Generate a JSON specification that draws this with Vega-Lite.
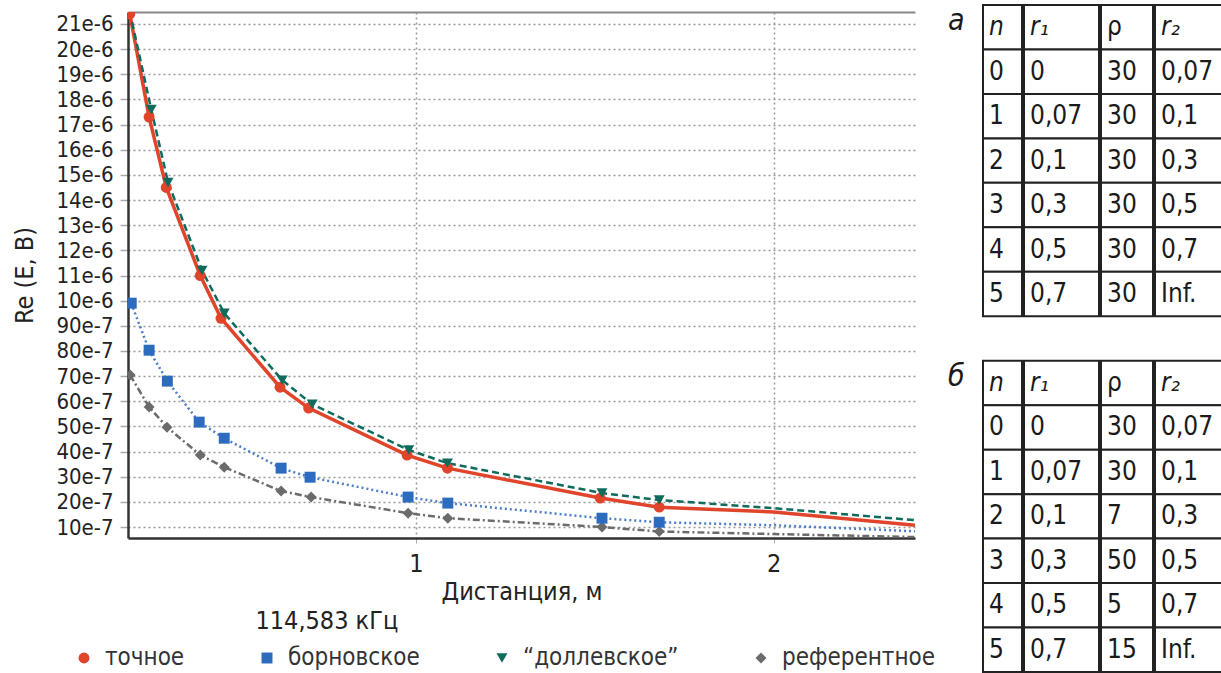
{
  "$schema": "https://vega.github.io/schema/vega-lite/v6.json",
  "autosize": {"type": "pad"},
  "padding": {"left": 12, "top": 4, "right": 0, "bottom": 0},
  "config": {
    "font": "DejaVu Sans Condensed, Liberation Sans Narrow, sans-serif",
    "view": {"stroke": null},
    "axis": {"labelColor": "#222222", "titleColor": "#222222", "titleFontWeight": "normal"}
  },
  "datasets": {
    "curves": [
      {"s": "референтное", "x": 0.201, "y": 7.04e-6, "m": 1},
      {"s": "референтное", "x": 0.254, "y": 5.77e-6, "m": 1},
      {"s": "референтное", "x": 0.304, "y": 4.97e-6, "m": 1},
      {"s": "референтное", "x": 0.397, "y": 3.86e-6, "m": 1},
      {"s": "референтное", "x": 0.464, "y": 3.38e-6, "m": 1},
      {"s": "референтное", "x": 0.623, "y": 2.43e-6, "m": 1},
      {"s": "референтное", "x": 0.707, "y": 2.19e-6, "m": 1},
      {"s": "референтное", "x": 0.978, "y": 1.55e-6, "m": 1},
      {"s": "референтное", "x": 1.089, "y": 1.35e-6, "m": 1},
      {"s": "референтное", "x": 1.52, "y": 1.0e-6, "m": 1},
      {"s": "референтное", "x": 1.68, "y": 0.82e-6, "m": 1},
      {"s": "референтное", "x": 2.0, "y": 0.72e-6, "m": 0},
      {"s": "референтное", "x": 2.395, "y": 0.6e-6, "m": 0},
      {"s": "борновское", "x": 0.204, "y": 9.9e-6, "m": 1},
      {"s": "борновское", "x": 0.254, "y": 8.03e-6, "m": 1},
      {"s": "борновское", "x": 0.305, "y": 6.8e-6, "m": 1},
      {"s": "борновское", "x": 0.394, "y": 5.17e-6, "m": 1},
      {"s": "борновское", "x": 0.464, "y": 4.53e-6, "m": 1},
      {"s": "борновское", "x": 0.623, "y": 3.34e-6, "m": 1},
      {"s": "борновское", "x": 0.704, "y": 2.98e-6, "m": 1},
      {"s": "борновское", "x": 0.978, "y": 2.19e-6, "m": 1},
      {"s": "борновское", "x": 1.089, "y": 1.95e-6, "m": 1},
      {"s": "борновское", "x": 1.52, "y": 1.35e-6, "m": 1},
      {"s": "борновское", "x": 1.68, "y": 1.19e-6, "m": 1},
      {"s": "борновское", "x": 2.0, "y": 1.07e-6, "m": 0},
      {"s": "борновское", "x": 2.395, "y": 0.83e-6, "m": 0},
      {"s": "точное", "x": 0.2, "y": 21.4e-6, "m": 1},
      {"s": "точное", "x": 0.254, "y": 17.3e-6, "m": 1},
      {"s": "точное", "x": 0.302, "y": 14.5e-6, "m": 1},
      {"s": "точное", "x": 0.397, "y": 11.0e-6, "m": 1},
      {"s": "точное", "x": 0.455, "y": 9.3e-6, "m": 1},
      {"s": "точное", "x": 0.62, "y": 6.56e-6, "m": 1},
      {"s": "точное", "x": 0.7, "y": 5.73e-6, "m": 1},
      {"s": "точное", "x": 0.975, "y": 3.86e-6, "m": 1},
      {"s": "точное", "x": 1.088, "y": 3.34e-6, "m": 1},
      {"s": "точное", "x": 1.515, "y": 2.15e-6, "m": 1},
      {"s": "точное", "x": 1.68, "y": 1.79e-6, "m": 1},
      {"s": "точное", "x": 2.0, "y": 1.6e-6, "m": 0},
      {"s": "точное", "x": 2.395, "y": 1.07e-6, "m": 0},
      {"s": "“доллевское”", "x": 0.2, "y": 21.5e-6, "m": 0},
      {"s": "“доллевское”", "x": 0.26, "y": 17.6e-6, "m": 1},
      {"s": "“доллевское”", "x": 0.307, "y": 14.7e-6, "m": 1},
      {"s": "“доллевское”", "x": 0.402, "y": 11.2e-6, "m": 1},
      {"s": "“доллевское”", "x": 0.464, "y": 9.5e-6, "m": 1},
      {"s": "“доллевское”", "x": 0.626, "y": 6.84e-6, "m": 1},
      {"s": "“доллевское”", "x": 0.71, "y": 5.88e-6, "m": 1},
      {"s": "“доллевское”", "x": 0.98, "y": 4.06e-6, "m": 1},
      {"s": "“доллевское”", "x": 1.088, "y": 3.54e-6, "m": 1},
      {"s": "“доллевское”", "x": 1.52, "y": 2.35e-6, "m": 1},
      {"s": "“доллевское”", "x": 1.68, "y": 2.07e-6, "m": 1},
      {"s": "“доллевское”", "x": 2.0, "y": 1.75e-6, "m": 0},
      {"s": "“доллевское”", "x": 2.395, "y": 1.27e-6, "m": 0}
    ],
    "tables": [
      {"row": 0, "col": "lbl", "t": "а", "it": 1},
      {"row": 8, "col": "lbl", "t": "б", "it": 1},
      {"row": 0, "col": "n", "t": "n", "it": 1},
      {"row": 0, "col": "r1", "t": "r₁", "it": 1},
      {"row": 0, "col": "rho", "t": "ρ", "it": 0},
      {"row": 0, "col": "r2", "t": "r₂", "it": 1},
      {"row": 1, "col": "n", "t": "0", "it": 0},
      {"row": 1, "col": "r1", "t": "0", "it": 0},
      {"row": 1, "col": "rho", "t": "30", "it": 0},
      {"row": 1, "col": "r2", "t": "0,07", "it": 0},
      {"row": 2, "col": "n", "t": "1", "it": 0},
      {"row": 2, "col": "r1", "t": "0,07", "it": 0},
      {"row": 2, "col": "rho", "t": "30", "it": 0},
      {"row": 2, "col": "r2", "t": "0,1", "it": 0},
      {"row": 3, "col": "n", "t": "2", "it": 0},
      {"row": 3, "col": "r1", "t": "0,1", "it": 0},
      {"row": 3, "col": "rho", "t": "30", "it": 0},
      {"row": 3, "col": "r2", "t": "0,3", "it": 0},
      {"row": 4, "col": "n", "t": "3", "it": 0},
      {"row": 4, "col": "r1", "t": "0,3", "it": 0},
      {"row": 4, "col": "rho", "t": "30", "it": 0},
      {"row": 4, "col": "r2", "t": "0,5", "it": 0},
      {"row": 5, "col": "n", "t": "4", "it": 0},
      {"row": 5, "col": "r1", "t": "0,5", "it": 0},
      {"row": 5, "col": "rho", "t": "30", "it": 0},
      {"row": 5, "col": "r2", "t": "0,7", "it": 0},
      {"row": 6, "col": "n", "t": "5", "it": 0},
      {"row": 6, "col": "r1", "t": "0,7", "it": 0},
      {"row": 6, "col": "rho", "t": "30", "it": 0},
      {"row": 6, "col": "r2", "t": "Inf.", "it": 0},
      {"row": 8, "col": "n", "t": "n", "it": 1},
      {"row": 8, "col": "r1", "t": "r₁", "it": 1},
      {"row": 8, "col": "rho", "t": "ρ", "it": 0},
      {"row": 8, "col": "r2", "t": "r₂", "it": 1},
      {"row": 9, "col": "n", "t": "0", "it": 0},
      {"row": 9, "col": "r1", "t": "0", "it": 0},
      {"row": 9, "col": "rho", "t": "30", "it": 0},
      {"row": 9, "col": "r2", "t": "0,07", "it": 0},
      {"row": 10, "col": "n", "t": "1", "it": 0},
      {"row": 10, "col": "r1", "t": "0,07", "it": 0},
      {"row": 10, "col": "rho", "t": "30", "it": 0},
      {"row": 10, "col": "r2", "t": "0,1", "it": 0},
      {"row": 11, "col": "n", "t": "2", "it": 0},
      {"row": 11, "col": "r1", "t": "0,1", "it": 0},
      {"row": 11, "col": "rho", "t": "7", "it": 0},
      {"row": 11, "col": "r2", "t": "0,3", "it": 0},
      {"row": 12, "col": "n", "t": "3", "it": 0},
      {"row": 12, "col": "r1", "t": "0,3", "it": 0},
      {"row": 12, "col": "rho", "t": "50", "it": 0},
      {"row": 12, "col": "r2", "t": "0,5", "it": 0},
      {"row": 13, "col": "n", "t": "4", "it": 0},
      {"row": 13, "col": "r1", "t": "0,5", "it": 0},
      {"row": 13, "col": "rho", "t": "5", "it": 0},
      {"row": 13, "col": "r2", "t": "0,7", "it": 0},
      {"row": 14, "col": "n", "t": "5", "it": 0},
      {"row": 14, "col": "r1", "t": "0,7", "it": 0},
      {"row": 14, "col": "rho", "t": "15", "it": 0},
      {"row": 14, "col": "r2", "t": "Inf.", "it": 0}
    ]
  },
  "spacing": 25,
  "hconcat": [
    {
      "width": 787,
      "height": 526,
      "data": {"name": "curves"},
      "encoding": {
        "y": {
          "field": "y", "type": "quantitative",
          "scale": {"domain": [5.63e-7, 2.1477e-5], "nice": false, "zero": false},
          "axis": {
            "orient": "left",
            "values": [1e-6, 2e-6, 3e-6, 4e-6, 5e-6, 6e-6, 7e-6, 8e-6, 9e-6, 10e-6, 11e-6, 12e-6, 13e-6, 14e-6, 15e-6, 16e-6, 17e-6, 18e-6, 19e-6, 20e-6, 21e-6],
            "labelExpr": "datum.value > 9.99e-6 ? round(datum.value * 1e6) + 'e-6' : round(datum.value * 1e7) + 'e-7'",
            "grid": true, "gridDash": [2, 3], "gridColor": "#999999", "gridWidth": 1.5,
            "domainColor": "#333333", "domainWidth": 2.5, "tickSize": 8, "tickColor": "#aaaaaa", "tickWidth": 1.5,
            "labelFontSize": 22, "labelPadding": 7, "labelOverlap": false,
            "title": "Re (E, B)", "titleFontSize": 25, "titlePadding": 18
          }
        }
      },
      "layer": [
        {
          "encoding": {
            "x": {
              "field": "x", "type": "quantitative",
              "scale": {"domain": [0.195, 2.395], "nice": false, "zero": false},
              "axis": {
                "orient": "bottom", "values": [1, 2], "grid": true, "gridDash": [2, 3], "gridColor": "#999999", "gridWidth": 1.5,
                "domainColor": "#333333", "domainWidth": 2.5, "tickSize": 5, "tickColor": "#aaaaaa",
                "labelFontSize": 25, "labelPadding": 8, "format": "d",
                "title": "Дистанция, м", "titleFontSize": 25, "titlePadding": 3
              }
            }
          },
          "layer": [
            {
              "transform": [{"filter": "datum.s == 'референтное'"}],
              "mark": {"type": "line", "clip": true, "color": "#6b6b6b", "strokeWidth": 2.5, "strokeDash": [7, 3, 2, 3]}
            },
            {
              "transform": [{"filter": "datum.s == 'борновское'"}],
              "mark": {"type": "line", "clip": true, "color": "#4a7ec6", "strokeWidth": 2.5, "strokeDash": [2, 3]}
            },
            {
              "transform": [{"filter": "datum.s == 'точное'"}],
              "mark": {"type": "line", "clip": true, "color": "#e0452c", "strokeWidth": 3.5}
            },
            {
              "transform": [{"filter": "datum.s == '“доллевское”'"}],
              "mark": {"type": "line", "clip": true, "color": "#0f6b5c", "strokeWidth": 2.5, "strokeDash": [7, 4]}
            }
          ]
        },
        {
          "transform": [{"filter": "datum.m == 1"}],
          "mark": {"type": "point", "filled": true, "opacity": 1, "size": 120, "clip": true},
          "encoding": {
            "x": {
              "field": "x", "type": "quantitative",
              "axis": {
                "orient": "top", "values": [1], "labels": false, "grid": false, "ticks": false, "domainColor": "#888888", "domainWidth": 2,
                "title": "114,583 кГц", "titleX": 127, "titleY": 608, "titleAlign": "left", "titleBaseline": "middle", "titleAngle": 0,
                "titleFontSize": 25, "titleColor": "#222222"
              }
            },
            "color": {
              "field": "s", "type": "nominal",
              "scale": {"domain": ["точное", "борновское", "“доллевское”", "референтное"], "range": ["#e0452c", "#2d6bbf", "#0f6b5c", "#6b6b6b"]},
              "legend": {
                "title": null, "orient": "none", "legendX": -56, "legendY": 634, "direction": "horizontal", "columns": 4, "columnPadding": 70,
                "symbolSize": 120, "symbolStrokeWidth": 0, "labelFontSize": 24, "labelColor": "#333333", "labelOffset": 9, "labelLimit": 300, "padding": 0
              }
            },
            "shape": {
              "field": "s", "type": "nominal",
              "scale": {"domain": ["точное", "борновское", "“доллевское”", "референтное"], "range": ["circle", "square", "triangle-down", "diamond"]},
              "legend": {
                "title": null, "orient": "none", "legendX": -56, "legendY": 634, "direction": "horizontal", "columns": 4, "columnPadding": 70,
                "symbolSize": 120, "symbolStrokeWidth": 0, "labelFontSize": 24, "labelColor": "#333333", "labelOffset": 9, "labelLimit": 300, "padding": 0
              }
            }
          }
        }
      ],
      "resolve": {"axis": {"x": "independent"}}
    },
    {
      "spacing": 0,
      "hconcat": [
        {
          "width": 42, "height": 660,
          "data": {"name": "tables"},
          "transform": [{"filter": "datum.col == 'lbl'"}],
          "mark": {"type": "text", "align": "left", "baseline": "middle", "dx": 8, "dy": -6, "fontSize": 30, "fontStyle": "italic", "color": "#1a1a1a"},
          "encoding": {
            "y": {"field": "row", "type": "ordinal", "scale": {"domain": [0,1,2,3,4,5,6,7,8,9,10,11,12,13,14], "range": [-7, 660], "paddingInner": 0, "paddingOuter": 0}, "axis": null},
            "x": {"datum": 0, "type": "quantitative", "scale": {"domain": [0, 1]}, "axis": null},
            "text": {"field": "t"}
          }
        },
        {
          "width": 39, "height": 660,
          "data": {"name": "tables"},
          "transform": [{"filter": "datum.col == 'n'"}],
          "encoding": {
            "y": {"field": "row", "type": "ordinal", "scale": {"domain": [0,1,2,3,4,5,6,7,8,9,10,11,12,13,14], "range": [-7, 660], "paddingInner": 0, "paddingOuter": 0}, "axis": null}
          },
          "layer": [
            {"mark": {"type": "rect", "fill": "#ffffff", "stroke": "#222222", "strokeWidth": 2}},
            {
              "transform": [{"filter": "datum.it == 0"}],
              "mark": {"type": "text", "align": "left", "baseline": "middle", "dx": 6, "fontSize": 26, "color": "#1a1a1a"},
              "encoding": {"x": {"datum": 0, "type": "quantitative", "scale": {"domain": [0, 1]}, "axis": null}, "text": {"field": "t"}}
            },
            {
              "transform": [{"filter": "datum.it == 1"}],
              "mark": {"type": "text", "align": "left", "baseline": "middle", "dx": 6, "fontSize": 26, "fontStyle": "italic", "color": "#1a1a1a"},
              "encoding": {"x": {"datum": 0, "type": "quantitative", "scale": {"domain": [0, 1]}, "axis": null}, "text": {"field": "t"}}
            }
          ]
        },
        {
          "width": 75, "height": 660,
          "data": {"name": "tables"},
          "transform": [{"filter": "datum.col == 'r1'"}],
          "encoding": {
            "y": {"field": "row", "type": "ordinal", "scale": {"domain": [0,1,2,3,4,5,6,7,8,9,10,11,12,13,14], "range": [-7, 660], "paddingInner": 0, "paddingOuter": 0}, "axis": null}
          },
          "layer": [
            {"mark": {"type": "rect", "fill": "#ffffff", "stroke": "#222222", "strokeWidth": 2}},
            {
              "transform": [{"filter": "datum.it == 0"}],
              "mark": {"type": "text", "align": "left", "baseline": "middle", "dx": 6, "fontSize": 26, "color": "#1a1a1a"},
              "encoding": {"x": {"datum": 0, "type": "quantitative", "scale": {"domain": [0, 1]}, "axis": null}, "text": {"field": "t"}}
            },
            {
              "transform": [{"filter": "datum.it == 1"}],
              "mark": {"type": "text", "align": "left", "baseline": "middle", "dx": 6, "fontSize": 26, "fontStyle": "italic", "color": "#1a1a1a"},
              "encoding": {"x": {"datum": 0, "type": "quantitative", "scale": {"domain": [0, 1]}, "axis": null}, "text": {"field": "t"}}
            }
          ]
        },
        {
          "width": 52, "height": 660,
          "data": {"name": "tables"},
          "transform": [{"filter": "datum.col == 'rho'"}],
          "encoding": {
            "y": {"field": "row", "type": "ordinal", "scale": {"domain": [0,1,2,3,4,5,6,7,8,9,10,11,12,13,14], "range": [-7, 660], "paddingInner": 0, "paddingOuter": 0}, "axis": null}
          },
          "layer": [
            {"mark": {"type": "rect", "fill": "#ffffff", "stroke": "#222222", "strokeWidth": 2}},
            {
              "mark": {"type": "text", "align": "left", "baseline": "middle", "dx": 6, "fontSize": 26, "color": "#1a1a1a"},
              "encoding": {"x": {"datum": 0, "type": "quantitative", "scale": {"domain": [0, 1]}, "axis": null}, "text": {"field": "t"}}
            }
          ]
        },
        {
          "width": 72, "height": 660,
          "data": {"name": "tables"},
          "transform": [{"filter": "datum.col == 'r2'"}],
          "encoding": {
            "y": {"field": "row", "type": "ordinal", "scale": {"domain": [0,1,2,3,4,5,6,7,8,9,10,11,12,13,14], "range": [-7, 660], "paddingInner": 0, "paddingOuter": 0}, "axis": null}
          },
          "layer": [
            {"mark": {"type": "rect", "fill": "#ffffff", "stroke": "#222222", "strokeWidth": 2}},
            {
              "transform": [{"filter": "datum.it == 0"}],
              "mark": {"type": "text", "align": "left", "baseline": "middle", "dx": 6, "fontSize": 26, "color": "#1a1a1a"},
              "encoding": {"x": {"datum": 0, "type": "quantitative", "scale": {"domain": [0, 1]}, "axis": null}, "text": {"field": "t"}}
            },
            {
              "transform": [{"filter": "datum.it == 1"}],
              "mark": {"type": "text", "align": "left", "baseline": "middle", "dx": 6, "fontSize": 26, "fontStyle": "italic", "color": "#1a1a1a"},
              "encoding": {"x": {"datum": 0, "type": "quantitative", "scale": {"domain": [0, 1]}, "axis": null}, "text": {"field": "t"}}
            }
          ]
        }
      ]
    }
  ]
}
